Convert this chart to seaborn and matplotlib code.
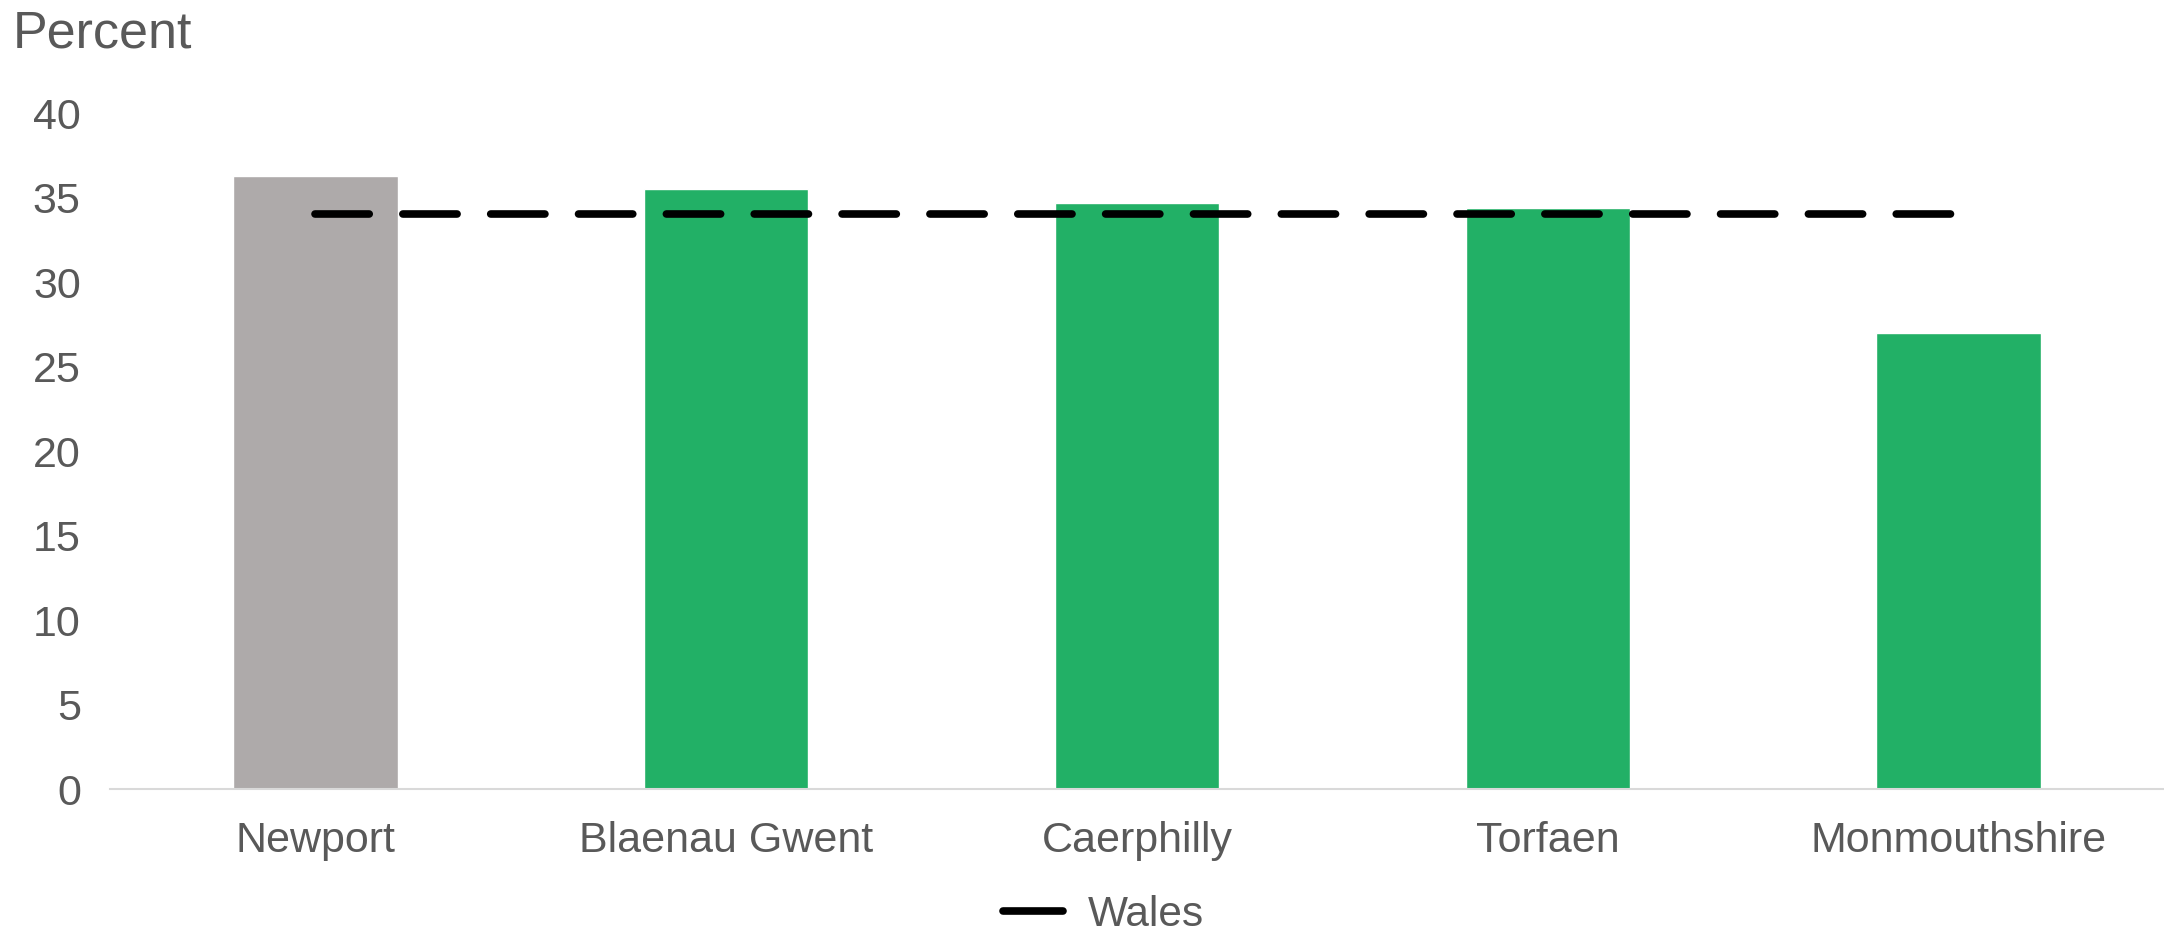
import matplotlib
matplotlib.use("Agg")
import matplotlib.pyplot as plt
import seaborn as sns
import pandas as pd

areas = ["Newport", "Blaenau Gwent", "Caerphilly", "Torfaen", "Monmouthshire"]
percent = [36.3, 35.5, 34.7, 34.4, 27.0]
wales = [34.0, 34.0, 34.0, 34.0, 34.0]
bar_colours = ["#AEAAAA", "#22B066", "#22B066", "#22B066", "#22B066"]

TEXT = "#595959"

sns.set_style("white")
plt.rcParams["font.family"] = ["Liberation Sans", "DejaVu Sans"]

df = pd.DataFrame({"area": areas, "percent": percent, "wales": wales})

fig = plt.figure(figsize=(21.64, 9.31), dpi=100)
ax = fig.add_axes([0.0508, 0.1525, 0.9492, 0.7261])

sns.barplot(data=df, x="area", y="percent", hue="area", palette=bar_colours,
            width=0.4, legend=False, ax=ax, saturation=1)

# Wales average as dashed line across the category centres
ax.plot(range(len(areas)), df["wales"], color="black", lw=5.5,
        linestyle=(0, (7.1, 4.4)), dash_capstyle="round", label="Wales")

ax.set_ylim(0, 40)
ax.set_xlim(-0.5, len(areas) - 0.5)
ax.set_yticks(range(0, 41, 5))
ax.set_xlabel("")
ax.set_ylabel("")
ax.tick_params(axis="both", colors=TEXT, labelsize=31, length=0)
ax.tick_params(axis="x", pad=23)
ax.tick_params(axis="y", pad=21)

for side in ["top", "right", "left"]:
    ax.spines[side].set_visible(False)
ax.spines["bottom"].set_color("#D9D9D9")
ax.spines["bottom"].set_linewidth(1.5)

fig.text(0.006, 0.99, "Percent", fontsize=37.5, color=TEXT, ha="left", va="top")

handle = plt.Line2D([], [], color="black", lw=5.5, solid_capstyle="round")
fig.legend([handle], ["Wales"], loc="center", bbox_to_anchor=(0.51, 0.017),
           frameon=False, fontsize=30.5, labelcolor=TEXT, handlelength=1.4,
           handletextpad=0.6)

fig.savefig("out.png", dpi=100)
